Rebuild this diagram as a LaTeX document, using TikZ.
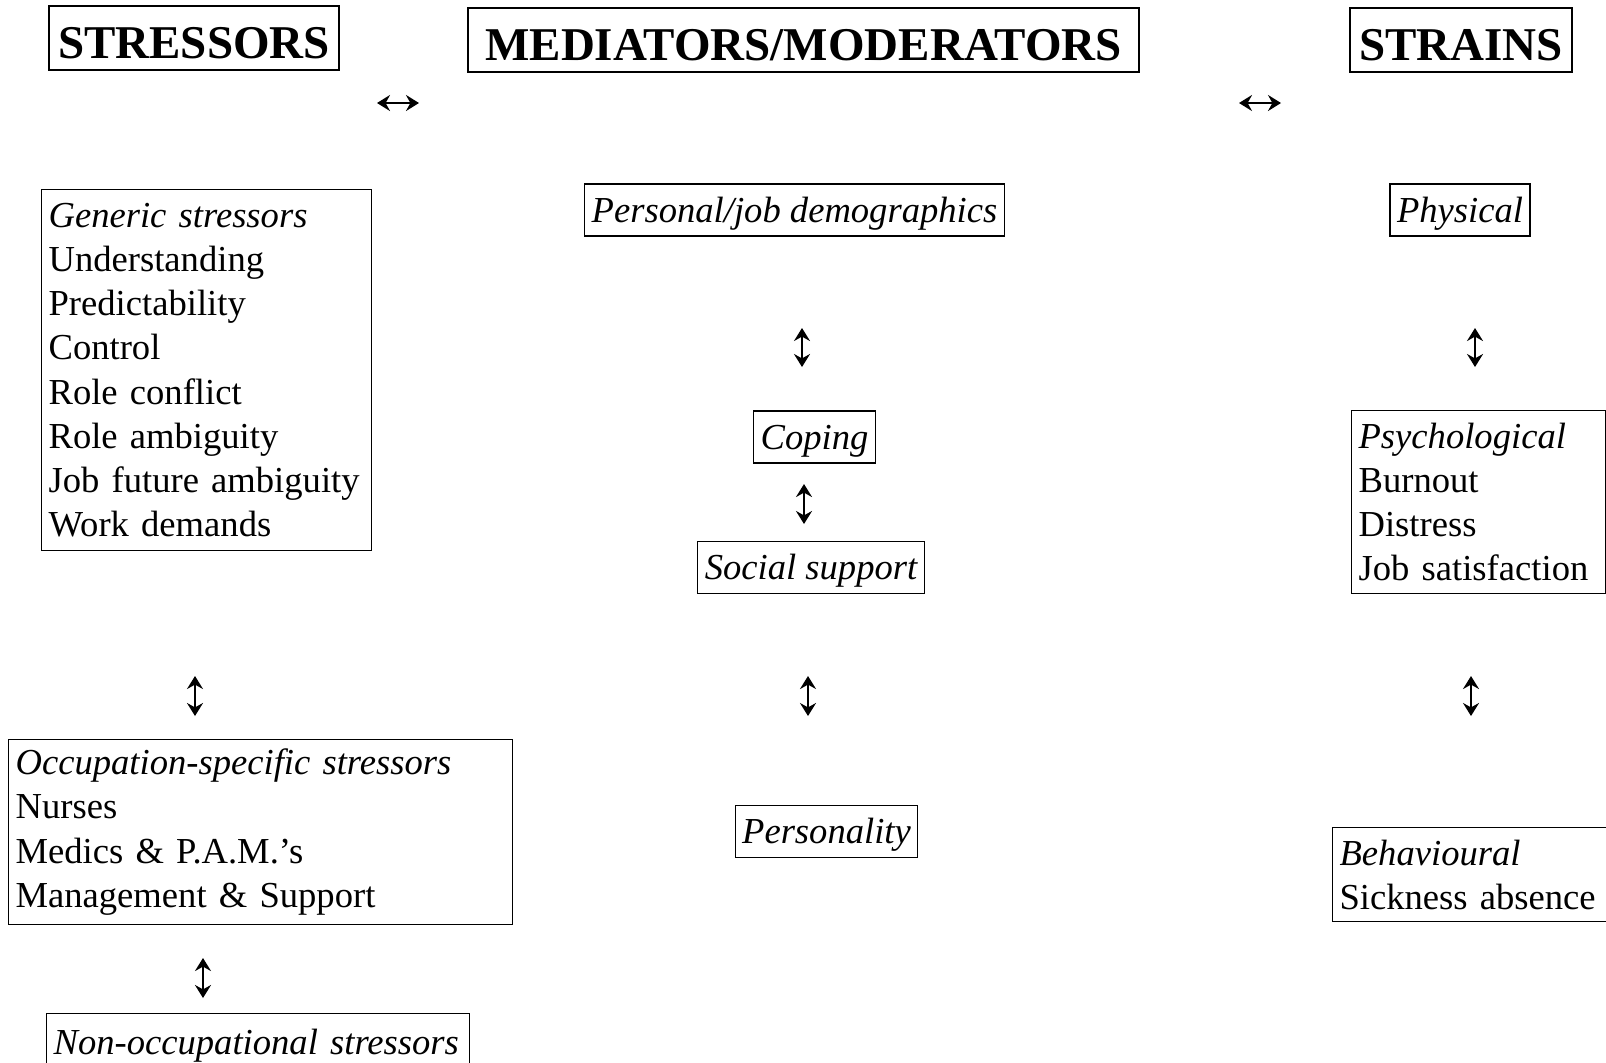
\documentclass[tikz,border=0pt]{standalone}
\usepackage{fontspec}
\setmainfont{Liberation Serif}
\usetikzlibrary{arrows.meta,positioning}

\tikzset{
  headbox/.style={draw, line width=0.7pt, inner sep=0pt, text height=26pt, text depth=6pt,
    font=\fontsize{23.5}{28}\selectfont\bfseries},
  itembox/.style={draw, line width=0.6pt, inner sep=3.5pt, inner ysep=3pt,
    text height=16pt, text depth=4pt,
    font=\fontsize{18.3}{22.1}\selectfont\itshape},
  listbox/.style={draw, line width=0.6pt, inner xsep=3.5pt, inner ysep=0pt,
    anchor=north west, align=left, font=\fontsize{18.3}{22.1}\selectfont},
  twoway/.style={{Stealth[length=6.5pt,width=8pt,inset=2.2pt]}-{Stealth[length=6.5pt,width=8pt,inset=2.2pt]},
    line width=1.3pt},
}

\begin{document}
\begin{tikzpicture}[x=0.5pt,y=-0.5pt]
  \clip (0,0) rectangle (1606,1062);
  \useasboundingbox (0,0) rectangle (1606,1062);

  % column headings
  \node[headbox, minimum width=145pt] (stressors) at (194,38) {STRESSORS};
  \node[headbox, minimum width=335.5pt] (mediators) at (803.5,40) {MEDIATORS/MODERATORS};
  \node[headbox, minimum width=111pt] (strains) at (1461,40) {STRAINS};

  % stressors
  \node[listbox, text width=158pt, minimum height=180.5pt] (generic) at (41,189)
    {\textit{Generic stressors}\\Understanding\\Predictability\\Control\\Role conflict\\Role ambiguity\\Job future ambiguity\\Work demands};
  \node[listbox, text width=245pt, minimum height=92.5pt] (occupation) at (8,739)
    {\textit{Occupation-specific stressors}\\Nurses\\Medics \& P.A.M.'s\\Management \& Support};
  \node[listbox, text width=204.5pt, minimum height=32pt] (nonocc) at (46,1013)
    {\textit{Non-occupational stressors}};

  % mediators / moderators
  \node[itembox] (demographics) at (794.5,210) {Personal/job demographics};
  \node[itembox] (coping) at (814.5,437) {Coping};
  \node[itembox] (support) at (811,567.5) {Social support};
  \node[itembox] (personality) at (826.5,831.5) {Personality};

  % strains
  \node[itembox] (physical) at (1460,210) {Physical};
  \node[listbox, text width=120pt, minimum height=91.5pt] (psych) at (1351,410)
    {\textit{Psychological}\\Burnout\\Distress\\Job satisfaction};
  \node[listbox, text width=130pt, minimum height=47pt] (behaviour) at (1332,827)
    {\textit{Behavioural}\\Sickness absence};

  % arrow ends
  \coordinate (h1a) at (377,103);   \coordinate (h1b) at (419,103);
  \coordinate (h2a) at (1239,103);  \coordinate (h2b) at (1281,103);
  \coordinate (m1a) at (802,328);   \coordinate (m1b) at (802,367);
  \coordinate (m2a) at (804,484);   \coordinate (m2b) at (804,524);
  \coordinate (m3a) at (808,676);   \coordinate (m3b) at (808,716);
  \coordinate (s1a) at (195,676);   \coordinate (s1b) at (195,716);
  \coordinate (s2a) at (203,958);   \coordinate (s2b) at (203,998);
  \coordinate (r1a) at (1475,328);  \coordinate (r1b) at (1475,367);
  \coordinate (r2a) at (1471,676);  \coordinate (r2b) at (1471,716);

  \draw[twoway] (h1a) -- (h1b);
  \draw[twoway] (h2a) -- (h2b);
  \draw[twoway] (m1a) -- (m1b);
  \draw[twoway] (m2a) -- (m2b);
  \draw[twoway] (m3a) -- (m3b);
  \draw[twoway] (s1a) -- (s1b);
  \draw[twoway] (s2a) -- (s2b);
  \draw[twoway] (r1a) -- (r1b);
  \draw[twoway] (r2a) -- (r2b);
\end{tikzpicture}
\end{document}
